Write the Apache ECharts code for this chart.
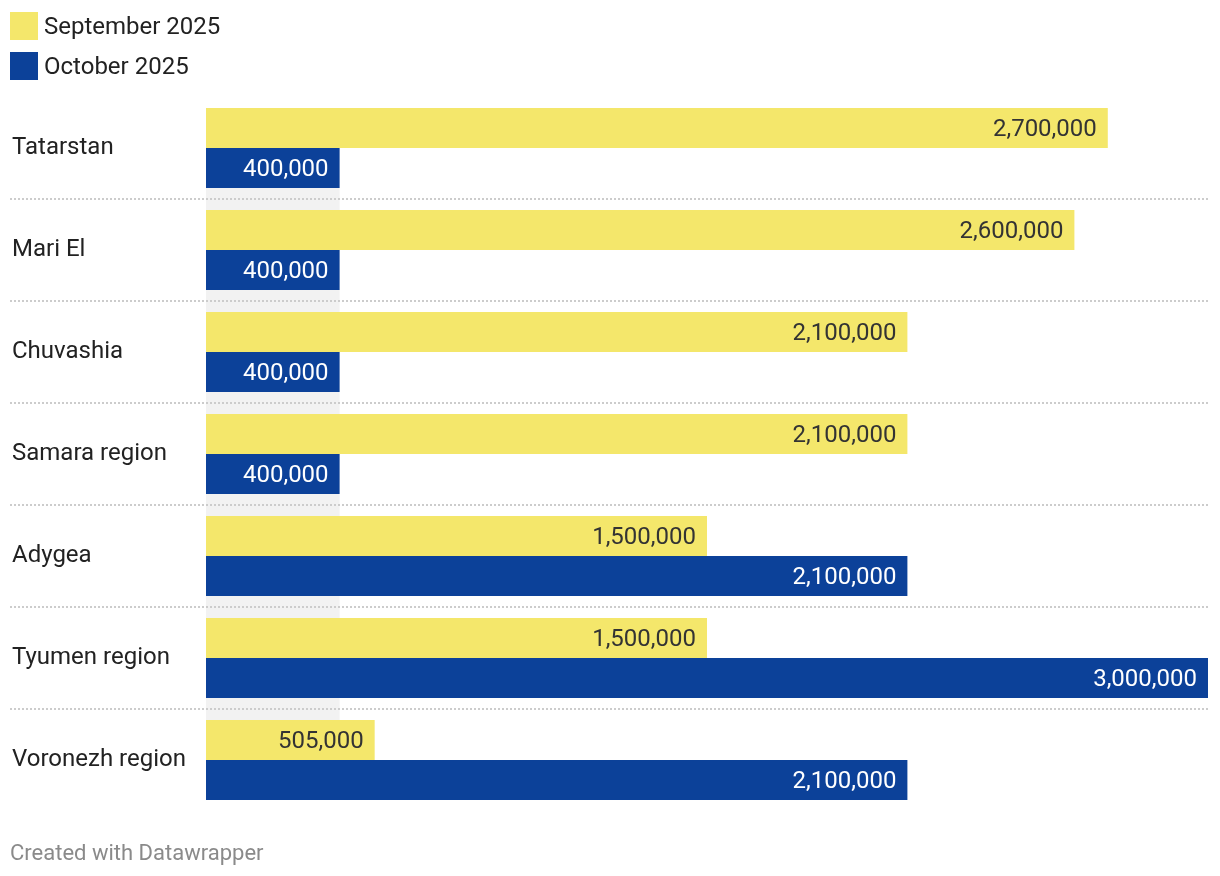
<!DOCTYPE html>
<html>
<head>
<meta charset="utf-8">
<script src="https://cdn.jsdelivr.net/npm/echarts@6/dist/echarts.min.js"></script>
<style>
html,body{margin:0;padding:0;background:#fff;}
#chart{width:1220px;height:876px;}
</style>
</head>
<body>
<div id="chart"></div>
<script>
const categories = ["Tatarstan", "Mari El", "Chuvashia", "Samara region", "Adygea", "Tyumen region", "Voronezh region"];
const september2025 = [2700000, 2600000, 2100000, 2100000, 1500000, 1500000, 505000];
const october2025 = [400000, 400000, 400000, 400000, 2100000, 3000000, 2100000];
const seriesNames = ["September 2025", "October 2025"];
const axisMax = 3000000;
const highlightRange = [0, 400000];
const footerText = "Created with Datawrapper";

const FONT = "Roboto";
const YELLOW = "#f4e76b";
const BLUE = "#0c4199";
const fmt = v => v.toLocaleString("en-US");

const chart = echarts.init(document.getElementById("chart"));

const separators = [];
for (let i = 1; i < categories.length; i++) separators.push({ yAxis: i });

chart.setOption({
  animation: false,
  backgroundColor: "#ffffff",
  textStyle: { fontFamily: FONT },
  legend: {
    orient: "vertical",
    left: 10,
    top: 12,
    padding: 0,
    itemWidth: 28,
    itemHeight: 28,
    itemGap: 12,
    icon: "rect",
    selectedMode: false,
    data: seriesNames,
    formatter: name => "{t|" + name + "}",
    textStyle: {
      fontFamily: FONT, fontSize: 24, color: "#222",
      rich: { t: { fontFamily: FONT, fontSize: 24, color: "#222", padding: [4, 0, 0, 1] } }
    }
  },
  grid: [
    { left: 206, right: 12, top: 97, height: 714 },
    { left: 10, right: 12, top: 97, height: 714 },
    { left: 206, right: 12, top: 108, bottom: 76 }
  ],
  xAxis: [
    { gridIndex: 0, type: "value", min: 0, max: axisMax, show: false },
    { gridIndex: 1, type: "value", min: 0, max: 1, show: false },
    { gridIndex: 2, type: "value", min: 0, max: axisMax, show: false }
  ],
  yAxis: [
    {
      gridIndex: 0,
      type: "category",
      data: categories,
      inverse: true,
      axisLine: { show: false },
      axisTick: { show: false },
      splitLine: { show: false },
      axisLabel: {
        align: "left",
        margin: 194,
        fontFamily: FONT,
        fontSize: 24,
        color: "#222",
        padding: [2, 0, 0, 0]
      }
    },
    { gridIndex: 1, type: "value", min: 0, max: categories.length, inverse: true, show: false },
    { gridIndex: 2, type: "value", min: 0, max: 1, show: false }
  ],
  series: [
    {
      name: "band",
      type: "line",
      xAxisIndex: 2,
      yAxisIndex: 2,
      data: [],
      z: 0,
      silent: true,
      markArea: {
        silent: true,
        itemStyle: { color: "#f2f2f2" },
        data: [[{ xAxis: highlightRange[0] }, { xAxis: highlightRange[1] }]]
      }
    },
    {
      name: "separators",
      type: "line",
      xAxisIndex: 1,
      yAxisIndex: 1,
      data: [],
      z: 1,
      silent: true,
      markLine: {
        silent: true,
        symbol: "none",
        label: { show: false },
        lineStyle: { color: "#cccccc", width: 2, type: [2, 2] },
        data: separators
      }
    },
    {
      name: seriesNames[0],
      type: "bar",
      xAxisIndex: 0,
      yAxisIndex: 0,
      data: september2025,
      barWidth: 40,
      barGap: "0%",
      z: 3,
      itemStyle: { color: YELLOW },
      label: {
        show: true,
        position: "insideRight",
        distance: 11,
        offset: [0, 2],
        formatter: p => fmt(p.value),
        fontFamily: FONT,
        fontSize: 24,
        color: "#333"
      }
    },
    {
      name: seriesNames[1],
      type: "bar",
      xAxisIndex: 0,
      yAxisIndex: 0,
      data: october2025,
      barWidth: 40,
      barGap: "0%",
      z: 3,
      itemStyle: { color: BLUE },
      label: {
        show: true,
        position: "insideRight",
        distance: 11,
        offset: [0, 2],
        formatter: p => fmt(p.value),
        fontFamily: FONT,
        fontSize: 24,
        color: "#ffffff"
      }
    }
  ],
  graphic: [
    {
      type: "text",
      left: 10,
      top: 843,
      style: { text: footerText, fontFamily: FONT, fontSize: 22, fill: "#8a8a8a" }
    }
  ]
});
</script>
</body>
</html>
